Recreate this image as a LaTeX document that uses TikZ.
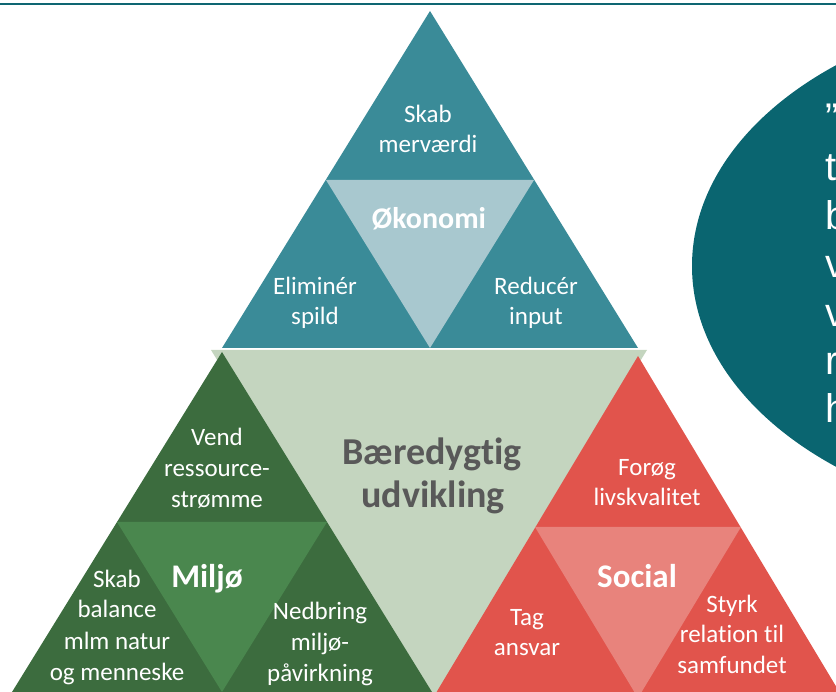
\documentclass[tikz,border=0pt]{standalone}
\usepackage{fontspec}
\setmainfont{Carlito}[Ligatures=NoCommon]
\newfontfamily\quotefont{Liberation Sans}
\definecolor{topline}{RGB}{14,102,114}
\definecolor{ellcol}{RGB}{10,101,112}
\definecolor{econ}{RGB}{58,139,152}
\definecolor{econin}{RGB}{168,200,207}
\definecolor{centgreen}{RGB}{196,213,191}
\definecolor{gdark}{RGB}{60,108,62}
\definecolor{glight}{RGB}{74,135,78}
\definecolor{rdark}{RGB}{225,84,76}
\definecolor{rlight}{RGB}{232,131,124}
\definecolor{graytext}{RGB}{89,89,89}
\tikzset{
  lab/.style={anchor=base, inner sep=0pt, text=white, font=\fontsize{25}{30}\selectfont},
  head/.style={anchor=base, inner sep=0pt, text=white, font=\fontsize{33}{38}\selectfont\bfseries},
  bigt/.style={anchor=base, inner sep=0pt, text=graytext, font=\fontsize{38}{44}\selectfont\bfseries},
  qt/.style={anchor=base west, inner sep=0pt, text=white, font=\fontsize{40}{48}\selectfont\quotefont}
}
\begin{document}
\begin{tikzpicture}[x=1pt,y=-1pt]
\useasboundingbox (0,0) rectangle (836,692);
\clip (0,0) rectangle (836,692);
% top rule
\draw[topline, line width=2.8pt] (0,4) -- (836,4);
% ellipse with quote
\fill[ellcol] (1087,266) ellipse [x radius=395, y radius=260];
\node[qt] (q1) at (825,132) {”};
\node[qt] (q2) at (825,181) {t};
\node[qt] (q3) at (825,230) {b};
\node[qt] (q4) at (825,278) {v};
\node[qt] (q5) at (825,327) {v};
\node[qt] (q6) at (825,375) {r};
\node[qt] (q7) at (825,423) {h};
% economy
\fill[econ] (430,11) -- (638,348) -- (222,348) -- cycle;
\fill[econin] (326,180) -- (534,180) -- (430,348) -- cycle;
% centre
\fill[centgreen] (211,350) -- (647,350) -- (429,705) -- cycle;
% environment
\fill[gdark] (222,352) -- (440,705) -- (4,705) -- cycle;
\fill[glight] (117,522) -- (327,522) -- (222,692) -- cycle;
% social
\fill[rdark] (638,356) -- (843,698) -- (433,698) -- cycle;
\fill[rlight] (535,527) -- (741,527) -- (638,698) -- cycle;
% economy labels
\node[lab] (skab1) at (428,123) {Skab};
\node[lab] (skab2) at (428,153) {merværdi};
\node[head, font=\fontsize{30}{36}\selectfont\bfseries] (oko) at (429,229) {Økonomi};
\node[lab] (elim1) at (315,295) {Eliminér};
\node[lab] (elim2) at (315,325) {spild};
\node[lab] (red1) at (536,295) {Reducér};
\node[lab] (red2) at (536,325) {input};
% centre label
\node[bigt] (bu1) at (432,465) {Bæredygtig};
\node[bigt] (bu2) at (433,508) {udvikling};
% environment labels
\node[lab] (vend1) at (217,446) {Vend};
\node[lab] (vend2) at (217,477) {ressource-};
\node[lab] (vend3) at (217,508) {strømme};
\node[head] (milj) at (207,587) {Miljø};
\node[lab] (bal1) at (117,587) {Skab};
\node[lab] (bal2) at (117,617) {balance};
\node[lab] (bal3) at (117,649) {mlm natur};
\node[lab] (bal4) at (117,680) {og menneske};
\node[lab] (ned1) at (320,619) {Nedbring};
\node[lab] (ned2) at (320,650) {miljø-};
\node[lab] (ned3) at (320,681) {påvirkning};
% social labels
\node[lab] (for1) at (647,476) {Forøg};
\node[lab] (for2) at (647,506) {livskvalitet};
\node[head] (soc) at (637,587) {Social};
\node[lab] (tag1) at (527,625) {Tag};
\node[lab] (tag2) at (527,655) {ansvar};
\node[lab] (sty1) at (732,612) {Styrk};
\node[lab] (sty2) at (732,642) {relation til};
\node[lab] (sty3) at (732,673) {samfundet};
\end{tikzpicture}
\end{document}
